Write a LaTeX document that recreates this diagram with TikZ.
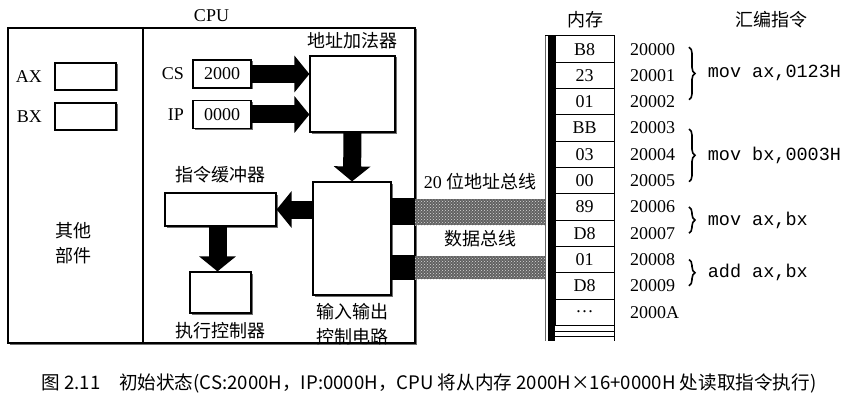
\documentclass[tikz,border=0pt]{standalone}
\usepackage{fontspec}
\setmainfont{Liberation Serif}
\setmonofont{Liberation Mono}
\newfontfamily\cjk{Noto Sans CJK SC}
\usetikzlibrary{arrows.meta,positioning,patterns,shadows,decorations.pathreplacing}

\tikzset{
box/.style={draw, fill=white, line width=1.2pt, inner sep=0pt,
  drop shadow={shadow xshift=1.5pt, shadow yshift=-1.5pt, fill=black!70, opacity=.8}},
reg/.style={box, minimum width=61pt, minimum height=27pt},
blk/.style={fill=black, inner sep=0pt, minimum width=24pt},
bus/.style={preaction={fill=black!62}, pattern=crosshatch dots, pattern color=white!85!black,
  inner sep=0pt, minimum width=130pt},
cell/.style={draw, line width=1pt, minimum width=59pt, minimum height=26.3pt, inner sep=0pt},
addr/.style={anchor=west, inner sep=0pt},
fat/.style={line width=18pt, -{Triangle[length=15pt,width=36pt]}},
brace/.style={decorate, decoration={brace, amplitude=6pt}, line width=1.6pt},
asm/.style={anchor=west, font=\fontsize{18.5}{20}\ttfamily, inner sep=0pt},
zh/.style={font=\fontsize{18}{25}\cjk}
}

\begin{document}
\begin{tikzpicture}[x=1pt, y=-1pt, font=\fontsize{18}{21}\selectfont]
\useasboundingbox (0,0) rectangle (856,401);

% CPU
\node[box, line width=2pt, minimum width=407pt, minimum height=315pt] (cpu) at (211.5,185.5) {};
\draw[line width=1.2pt] (143,0 |- cpu.north) -- (143,0 |- cpu.south);
\node[above=2pt of cpu] {CPU};

% registers
\node[reg] (ax) at (85.5,76.5) {};
\node[left=9pt of ax] {AX};
\node[reg] (bx) at (85.5,116.5) {};
\node[left=9pt of bx] {BX};
\node[reg, minimum width=58pt, minimum height=28pt] (cs) at (222,74) {2000};
\node[left=5pt of cs] {CS};
\node[reg, minimum width=58pt, minimum height=28pt] (ip) at (222,114.5) {0000};
\node[left=5pt of ip] {IP};
\node[zh, align=center] (other) at (73,243) {其他\\部件};

% units
\node[box, minimum width=85pt, minimum height=76pt] (adder) at (352.5,94) {};
\node[zh, above=3pt of adder] {地址加法器};
\node[box, minimum width=78pt, minimum height=113pt] (io) at (352,238.5) {};
\node[zh, below=4pt of io, align=center] {输入输出\\控制电路};
\node[box, minimum width=111pt, minimum height=33pt] (buf) at (220.5,209.5) {};
\node[zh, above=6pt of buf] {指令缓冲器};
\node[box, minimum width=61pt, minimum height=41pt] (exec) at (220.5,292.5) {};
\node[zh, below=5pt of exec] {执行控制器};

% fat arrows
\draw[fat] (cs.east) -- (cs.east -| adder.west);
\draw[fat] (ip.east) -- (ip.east -| adder.west);
\draw[fat] (adder.south) -- (io.north);
\draw[fat] (io.west |- buf.east) -- (buf.east);
\draw[fat] ([xshift=-3pt]buf.south) -- ([xshift=-3pt]exec.north);

% buses
\node[blk, minimum height=27pt] (pa) at (403,211.5) {};
\node[blk, minimum height=25pt] (pd) at (403,267.5) {};
\node[bus, minimum height=26pt] (abus) at (480,212) {};
\node[bus, minimum height=23pt] (dbus) at (480,267.5) {};
\node[above=5pt of abus] {20 {\cjk 位地址总线}};
\node[zh, above=5pt of dbus] {数据总线};

% memory
\fill (548,36) rectangle (555,341);
\draw[line width=0.8pt, black!60] (545,36) -- (545,341);
\draw[line width=1pt] (545,36) -- (614,36) (614,36) -- (614,341);
\foreach \v [count=\i from 0] in {B8,23,01,BB,03,00,89,D8,01,D8,\dots}
  \node[cell] (m\i) at (584.5,{49.15+26.3*\i}) {\v};
\foreach \yy in {331,336}
  \draw[line width=1pt] (555,\yy) -- (614,\yy);
\node[zh] (mem) at (585,20) {内存};

% addresses
\foreach \a [count=\i from 0] in {20000,20001,20002,20003,20004,20005,20006,20007,20008,20009,2000A}
  \node[addr] (a\i) at (630,{49.15+26.3*\i}) {\a};
\coordinate (brx) at (689,0);
\draw[brace] ([yshift=2pt]a0.west -| brx) -- ([yshift=2pt]a2.west -| brx)
  node[asm, midway, xshift=18pt] {mov ax,0123H};
\draw[brace] ([yshift=-1pt]a3.west -| brx) -- ([yshift=-1pt]a5.west -| brx)
  node[asm, midway, xshift=18pt] {mov bx,0003H};
\draw[brace] (a6.west -| brx) -- (a7.west -| brx)
  node[asm, midway, xshift=18pt] {mov ax,bx};
\draw[brace] (a8.west -| brx) -- (a9.west -| brx)
  node[asm, midway, xshift=18pt] {add ax,bx};
\node[zh] (asmt) at (771,20) {汇编指令};

% caption
\node[font=\fontsize{18.6}{21}\cjk] (cap) at (429,383)
  {图 2.11\quad 初始状态(CS:2000H，IP:0000H，CPU 将从内存 2000H×16+0000H 处读取指令执行)};
\end{tikzpicture}
\end{document}
